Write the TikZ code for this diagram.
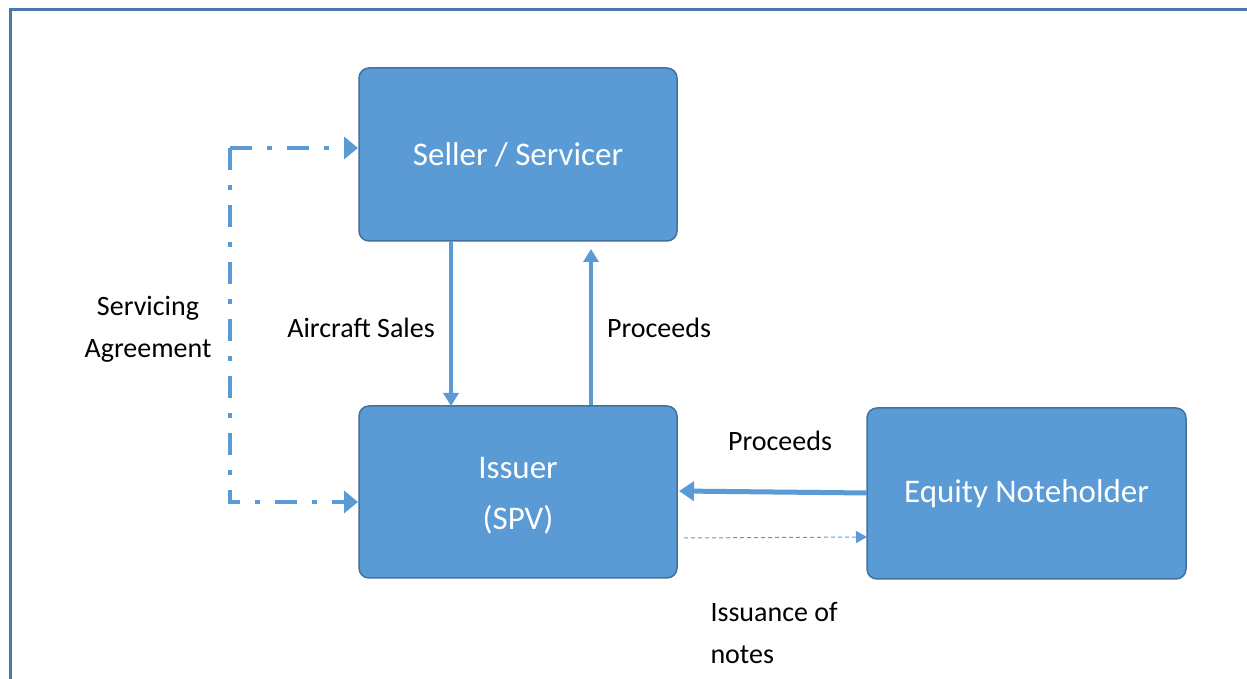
\documentclass[tikz,border=0pt]{standalone}
\usepackage{fontspec}
\setmainfont{Carlito}
\usetikzlibrary{arrows.meta}
\definecolor{boxfill}{HTML}{5B9BD5}
\definecolor{boxline}{HTML}{41719C}
\definecolor{frame}{HTML}{4A78A8}
\begin{document}
\begin{tikzpicture}[x=1pt,y=1pt,
  box/.style={draw=boxline, line width=1.5pt, fill=boxfill, rounded corners=10pt, text=white, font=\fontsize{33}{51}\selectfont, align=center},
  lbl/.style={font=\fontsize{28}{42}\selectfont, align=center, text=black},
  flow/.style={draw=boxfill, line width=3.5pt, -{Triangle[width=15pt,length=13pt]}},
  flowthick/.style={draw=boxfill, line width=5pt, -{Triangle[width=19pt,length=15pt]}},
  thin/.style={draw=boxfill, line width=1pt, dash pattern=on 4pt off 3pt, -{Triangle[width=12pt,length=11pt]}},
  dashdot/.style={draw=boxfill, line width=4.5pt, dash pattern=on 22pt off 15pt on 5pt off 15pt, -{Triangle[width=22pt,length=14pt]}}
]
\useasboundingbox (0,0) rectangle (1247,679);
\fill[white] (0,0) rectangle (1247,679);
\draw[frame, line width=3pt] (10,0) -- (10,669) -- (1247,669);

\node[box, minimum width=318pt, minimum height=173pt] (seller) at (518,524.5) {Seller / Servicer};
\node[box, minimum width=318pt, minimum height=172pt] (issuer) at (518,187) {};
\node[font=\fontsize{33}{51}\selectfont, text=white, align=center] (issuertext) at (518,183) {Issuer\\(SPV)};
\node[box, minimum width=319pt, minimum height=171pt] (equity) at (1026.5,185.5) {Equity Noteholder};

\coordinate (a1) at (451,438);
\coordinate (a2) at (451,273);
\draw[flow] (a1) -- (a2);
\coordinate (p1) at (591,274);
\coordinate (p2) at (591,430);
\draw[flow] (p1) -- (p2);
\coordinate (e1) at (867,186);
\coordinate (e2) at (679,188);
\draw[flowthick] (e1) -- (e2);
\coordinate (i1) at (684,141);
\coordinate (i2) at (867,142);
\draw[thin] (i1) -- (i2);

\coordinate (s1) at (230,531);
\coordinate (s2) at (230,177);
\coordinate (st) at (358,531);
\coordinate (sb) at (358,177);
\draw[dashdot] (s1) -- (st);
\draw[dashdot] (s1) -- (s2) -- (sb);

\node[lbl] (l1) at (148,350) {Servicing\\Agreement};
\node[lbl] (l2) at (361,351) {Aircraft Sales};
\node[lbl] (l3) at (659,351) {Proceeds};
\node[lbl] (l4) at (780,238) {Proceeds};
\node[lbl, align=left, anchor=west] (l5) at (707,46) {Issuance of\\notes};
\end{tikzpicture}
\end{document}
